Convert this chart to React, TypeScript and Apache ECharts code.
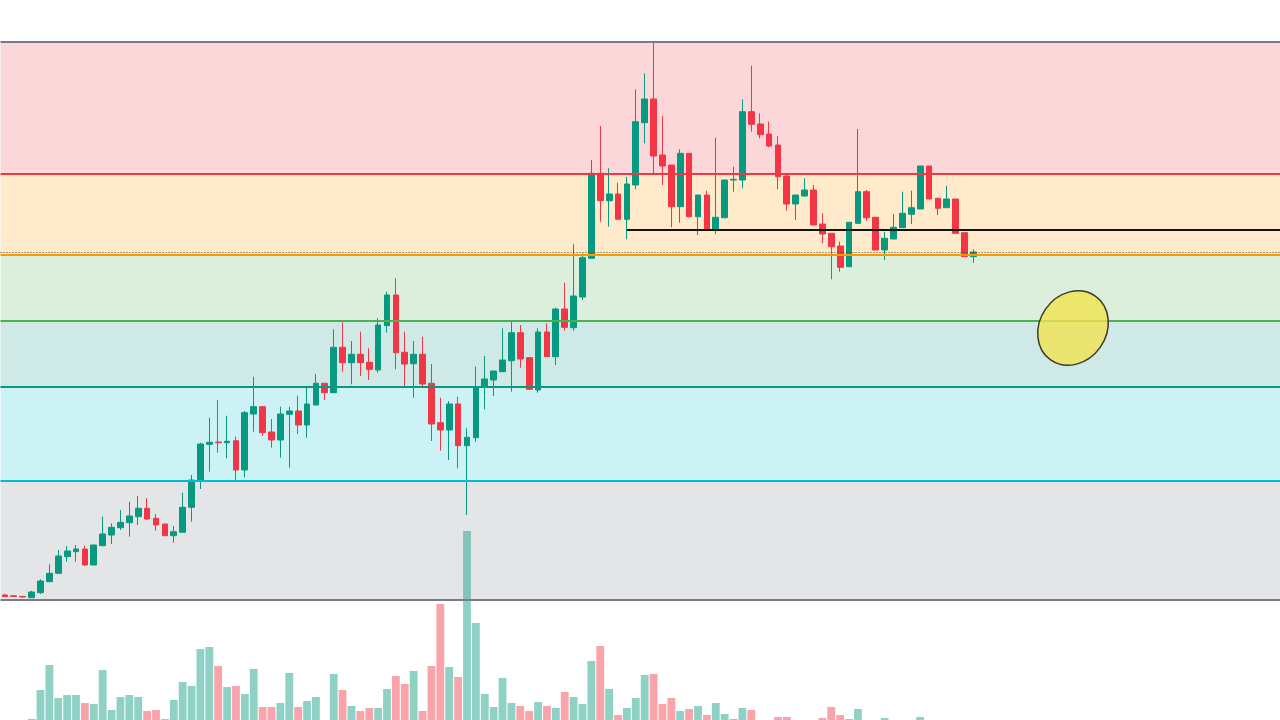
import React, { useEffect, useRef } from "react";
import * as echarts from "echarts";

// Bar slots (110 candles + empty space to the right edge)
const categories: string[] = Array.from({ length: 144 }, (_, i) => `${i + 1}`);

// [open, close, low, high]
const candles: number[][] = [
  [5, 3.5, 3, 6], [4.2, 3.6, 3, 4.6], [3.6, 3, 2.5, 3.8], [2.3, 8, 2, 9.3],
  [7.3, 19, 6, 20.7], [18.3, 26.7, 18, 35.7], [26.7, 44, 26, 50], [43.3, 49, 38.3, 54],
  [48.3, 51, 38.3, 55], [51, 35, 34.3, 54.3], [35, 55, 35, 55], [54.3, 66, 54, 83.3],
  [65, 72.7, 56, 76.7], [72.3, 77.7, 70, 90], [77.3, 84, 63.3, 98.3], [83.3, 91.7, 75, 104],
  [91.7, 81, 80, 101.7], [81.7, 75, 69.3, 86], [76, 64.3, 64, 76], [64.3, 68.3, 57.3, 74],
  [67.7, 92.7, 67.3, 107.3], [92.7, 120, 78.3, 125], [119.3, 156, 111, 157.3], [155.7, 157.7, 128.3, 182.3],
  [158, 157.3, 147.3, 200], [157.3, 158.7, 141.7, 184.3], [159.3, 130, 120, 163.3], [130, 187.3, 122.7, 189],
  [186, 193.3, 168.3, 223.3], [193.3, 167.3, 164, 193.3], [168, 160, 152.3, 181], [160, 186, 142.3, 193.3],
  [185.7, 189, 132.3, 193.3], [189, 175, 166, 204.3], [175, 196, 162.3, 213.3], [195, 216.7, 195, 226],
  [216.7, 207.3, 200, 216.7], [207.3, 252.7, 207.3, 270.7], [252.7, 237.3, 228.3, 277.7], [237.3, 245.7, 215.7, 259],
  [245.7, 237.3, 224, 268.3], [237.7, 230.7, 220, 251.7], [230, 275, 227.3, 281.7], [274.3, 305, 267.3, 308.3],
  [305, 247.3, 230.7, 321.7], [247.7, 236, 214, 268.3], [236.3, 245.7, 202.3, 259], [245.7, 216, 214, 263.3],
  [216.7, 176, 159, 236], [177.3, 170, 149.3, 202.3], [170, 196, 140, 199], [196, 154.3, 131.7, 203.3],
  [154.3, 162.7, 85, 171.7], [162.3, 213.3, 158.3, 233.3], [213.3, 221, 190.7, 244], [220, 229, 204, 229],
  [228.3, 240, 228.3, 271.7], [239.3, 267.3, 208.3, 279], [267.3, 241, 232.3, 275], [242.3, 210.7, 210, 243],
  [210, 268, 207.3, 271.7], [268, 243.3, 243.3, 276.7], [243.3, 291, 235, 292.3], [291, 272.7, 269.3, 317.3],
  [272.3, 304, 269.3, 355.7], [303, 342.3, 300, 346.7], [341.7, 426.7, 341.7, 440], [426.7, 399.3, 378.3, 474],
  [399.3, 406, 373.3, 431.7], [406, 380.7, 380.7, 417.3], [380.7, 416, 360.7, 423.3], [415, 478.3, 410.7, 510.7],
  [477.3, 501, 456.7, 526.7], [501, 444, 426.7, 558], [445, 434, 415, 484], [435, 393.3, 372.7, 435],
  [393.3, 446.7, 377.3, 450.7], [446.7, 383.3, 382.7, 446.7], [383.3, 405, 365, 405], [405, 370.7, 370, 409.3],
  [370, 382.7, 366, 462.3], [382.3, 420, 382.3, 420], [420, 420.7, 408.3, 433.3], [420, 488.3, 411.7, 500.7],
  [488.3, 475.7, 468.3, 534.3], [476, 465.3, 461.7, 486.7], [466, 454, 452.7, 478.3], [455, 423.3, 410.7, 464],
  [424, 396, 389.3, 425.7], [396, 405, 380, 405], [404, 410, 403.3, 421.7], [410, 375, 375, 415],
  [376, 366, 356.7, 386.7], [366.7, 353.3, 320.7, 366.7], [354, 332.7, 328.3, 358.3], [333.3, 377.7, 333.3, 377.7],
  [376.7, 408.3, 376.7, 471], [408.3, 382.3, 379.3, 410], [382.7, 350, 350, 382.7], [350, 361.7, 340, 368.3],
  [361, 372.7, 361, 386], [372.3, 386.7, 372.3, 408.3], [385.7, 392.3, 376, 409.3], [391, 434, 391, 434],
  [434, 401, 401, 434], [401.7, 391.7, 385, 401.7], [392.3, 401, 392.3, 414.3], [401, 366.7, 366.7, 401],
  [367.3, 343.3, 343.3, 367.3], [343.3, 348, 337.3, 350.7],
];

const volumes: number[] = [
  0, 0, 0, 1, 30, 55, 22, 25, 25, 17, 16, 50, 10, 23, 25, 23, 9, 10, 1, 20,
  38, 34, 71, 73, 54, 33, 34, 26, 51, 13, 13, 17, 47, 13, 19, 23, 0, 46, 30, 14,
  9, 12, 12, 31, 44, 36, 49, 9, 54, 116, 53, 43, 189, 97, 26, 13, 42, 17, 14, 9,
  18, 14, 12, 28, 23, 16, 59, 74, 31, 5, 12, 22, 45, 46, 16, 22, 9, 11, 14, 5,
  17, 6, 1, 12, 10, 0, 0, 3, 3, 0, 0, 0, 2, 13, 5, 1, 11, 0, 0, 2,
  0, 0, 0, 3, 0, 0, 0, 0, 0, 0,
];

// Fibonacci retracement drawn from the swing high to the swing low
const fibHigh = 558;
const fibLow = 0;
const fibRatios = [0, 0.236, 0.382, 0.5, 0.618, 0.786, 1];
const fibLineColors = ["#787B86", "#F23645", "#FF9800", "#4CAF50", "#089981", "#00BCD4", "#787B86"];
const fibFillColors = ["#fcd7da", "#ffebcc", "#dbefdc", "#cee9e6", "#ccf2f6", "#e4e5e7"];

// Horizontal drawings
const supportLevel = 370;
const supportStartIndex = 70;
const dottedLevel = 347.5;

const UP = "#089981";
const DOWN = "#F23645";

export default function App() {
  const ref = useRef<HTMLDivElement>(null);

  useEffect(() => {
    document.body.style.margin = "0";
    if (!ref.current) return;
    const chart = echarts.init(ref.current, undefined, { renderer: "svg" });

    const levels = fibRatios.map((r) => fibHigh - r * (fibHigh - fibLow));

    const areaData = fibFillColors.map((c, i) => [
      { yAxis: levels[i], itemStyle: { color: c, opacity: 1 } },
      { yAxis: levels[i + 1] },
    ]);

    const lineData: any[] = levels.map((lv, i) => ({
      yAxis: lv,
      lineStyle: { color: fibLineColors[i], width: 2, type: "solid", opacity: 1 },
    }));
    lineData.push({
      yAxis: dottedLevel,
      lineStyle: { color: "#4a4632", width: 1, type: [1, 2], opacity: 1 },
    });

    const volData = volumes.map((v, i) => ({
      value: v,
      itemStyle: {
        color: candles[i][1] >= candles[i][0] ? "rgba(8,153,129,0.45)" : "rgba(242,54,69,0.45)",
      },
    }));

    const option: any = {
      animation: false,
      backgroundColor: "#ffffff",
      grid: [
        { left: 0.5, right: -2.5, top: 42, bottom: 120 },
        { left: 0.5, right: -2.5, top: 42, bottom: 0 },
      ],
      xAxis: [
        { type: "category", data: categories, gridIndex: 0, boundaryGap: true, show: false },
        { type: "category", data: categories, gridIndex: 1, boundaryGap: true, show: false },
      ],
      yAxis: [
        { type: "value", gridIndex: 0, min: 0, max: 558, show: false, splitLine: { show: false } },
        { type: "value", gridIndex: 1, min: 0, max: 678, show: false, splitLine: { show: false } },
      ],
      series: [
        {
          type: "bar",
          xAxisIndex: 1,
          yAxisIndex: 1,
          data: volData,
          barWidth: "88%",
          z: 2,
          silent: true,
        },
        {
          type: "candlestick",
          xAxisIndex: 0,
          yAxisIndex: 0,
          data: candles,
          barWidth: "70%",
          z: 3,
          silent: true,
          itemStyle: {
            color: UP,
            color0: DOWN,
            borderColor: UP,
            borderColor0: DOWN,
            borderWidth: 1,
          },
          markArea: {
            silent: true,
            z: 1,
            label: { show: false },
            data: areaData,
          },
          markLine: {
            silent: true,
            z: 5,
            symbol: ["none", "none"],
            label: { show: false },
            emphasis: { disabled: true },
            data: lineData,
          },
        },
        {
          // horizontal ray from the base candle to the right edge
          type: "line",
          xAxisIndex: 0,
          yAxisIndex: 0,
          data: [],
          silent: true,
          markLine: {
            silent: true,
            z: 6,
            symbol: ["none", "none"],
            label: { show: false },
            emphasis: { disabled: true },
            lineStyle: { color: "#111111", width: 2, type: "solid", opacity: 1 },
            data: [
              [
                { coord: [categories[supportStartIndex], supportLevel] },
                { coord: [categories[categories.length - 1], supportLevel], x: 1280, y: 230 },
              ],
            ],
          },
        },
      ],
      graphic: [
        {
          type: "ellipse",
          x: 1073,
          y: 328,
          rotation: -0.61,
          z: 10,
          shape: { cx: 0, cy: 0, rx: 33.3, ry: 39 },
          style: { fill: "rgba(240,228,80,0.8)", stroke: "#3a3a2a", lineWidth: 1.5 },
        },
      ],
    };

    chart.setOption(option);
    return () => chart.dispose();
  }, []);

  return <div ref={ref} style={{ width: 1280, height: 720 }} />;
}
